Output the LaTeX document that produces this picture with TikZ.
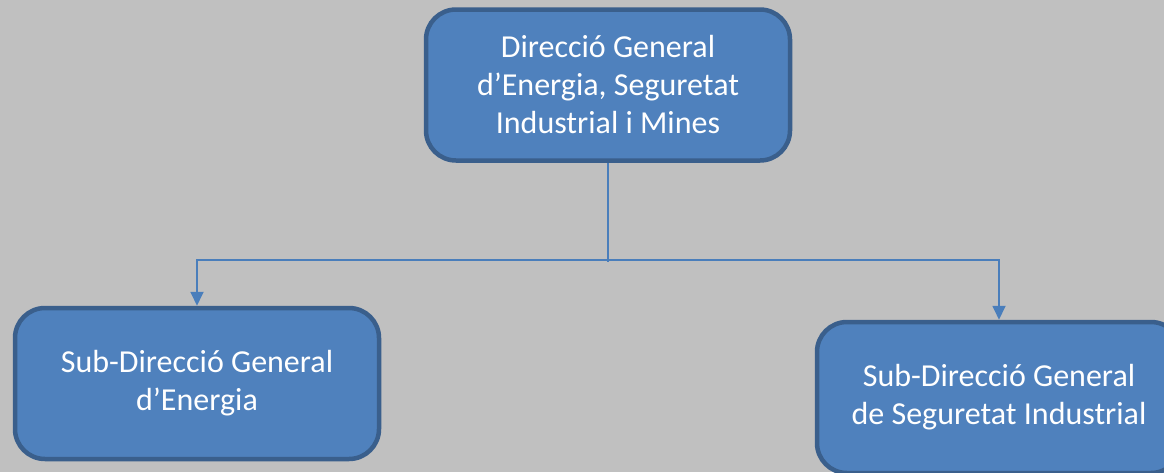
\documentclass[tikz,border=0pt]{standalone}
\usepackage{fontspec}
\setmainfont{Carlito}
\usetikzlibrary{arrows.meta}
\definecolor{bg}{HTML}{C0C0C0}
\definecolor{boxfill}{HTML}{4F81BD}
\definecolor{boxline}{HTML}{3A5F8C}
\definecolor{conn}{HTML}{4A7EBB}
\begin{document}
\begin{tikzpicture}[x=1pt,y=-1pt,
  orgbox/.style={draw=boxline, fill=boxfill, line width=4.5pt, rounded corners=30pt,
    minimum width=364pt, minimum height=151pt, align=center, text=white,
    font=\fontsize{32}{38}\selectfont, inner sep=0pt, outer sep=2.25pt},
  conline/.style={draw=conn, line width=1.8pt},
  arr/.style={conline, -{Triangle[width=13pt,length=14pt]}}]
\clip (0,0) rectangle (1164,472);
\fill[bg] (0,0) rectangle (1164,472);
\node[orgbox] (top) at (608,85) {Direcció General\\d’Energia, Seguretat\\Industrial i Mines};
\node[orgbox] (left) at (197,383.5) {Sub-Direcció General\\d’Energia};
\node[orgbox] (right) at (999,397.5) {Sub-Direcció General\\de Seguretat Industrial};
\coordinate (j) at (608,260);
\coordinate (jend) at (608,262);
\draw[conline] (top.south) -- (jend);
\draw[arr] (j) -| (left.north);
\draw[arr] (j) -| (right.north);
\end{tikzpicture}
\end{document}
